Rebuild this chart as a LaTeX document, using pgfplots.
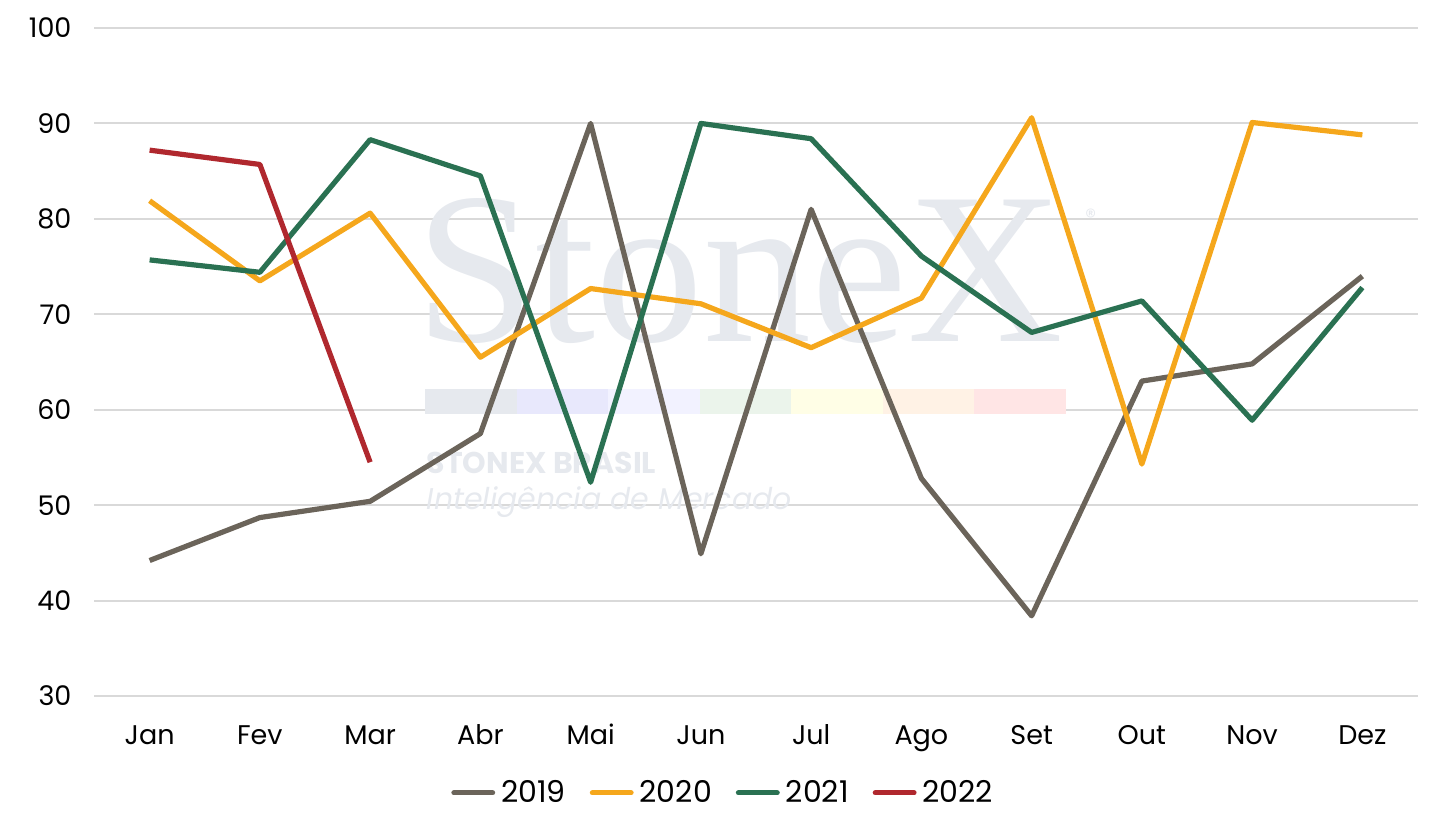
\documentclass[border=0pt]{standalone}
\usepackage{pgfplots}
\pgfplotsset{compat=1.18}
\usepackage{fontspec}
\setmainfont{Poppins}
\newfontfamily\wmserif{Liberation Serif}
\definecolor{c19}{HTML}{6B645A}
\definecolor{c20}{HTML}{F5A71C}
\definecolor{c21}{HTML}{2A7152}
\definecolor{c22}{HTML}{B0282E}
\definecolor{gridc}{HTML}{D9D9D9}
\definecolor{wm}{HTML}{E6E9EE}
\begin{document}
\begin{tikzpicture}
\useasboundingbox (-47.25pt,-65.5pt) rectangle (673.25pt,348pt);
\begin{axis}[
  at={(0,0)}, anchor=south west,
  scale only axis, width=661.5pt, height=334pt,
  xmin=-0.5, xmax=11.5, ymin=30, ymax=100,
  xtick={0,...,11},
  xticklabels={Jan,Fev,Mar,Abr,Mai,Jun,Jul,Ago,Set,Out,Nov,Dez},
  ytick={30,40,...,100},
  ymajorgrids, grid style={gridc, line width=1pt},
  axis line style={draw=none},
  major tick length=0pt,
  tick label style={font=\fontsize{13.5}{16}\selectfont, text=black},
  /pgf/number format/assume math mode=true,
  yticklabel style={xshift=-8pt},
  xticklabel style={anchor=base, yshift=-24pt},
  legend style={at={(0.476,-0.145)}, anchor=center, draw=none, font=\fontsize{15}{18}\selectfont, legend columns=4, /tikz/every odd column/.append style={column sep=1pt}, /tikz/every even column/.append style={column sep=10pt}},
  legend cell align=left,
  legend image code/.code={\draw[#1, line cap=round] (0cm,0cm) -- (0.68cm,0cm);},
  clip=false,
]
% watermark
\node[text=wm, font=\fontsize{108}{108}\selectfont\wmserif, anchor=center] at (axis cs:5.35,74.5) {StoneX};
\node[text=wm, font=\fontsize{11}{12}\selectfont, anchor=north east] at (axis cs:8.65,81.8) {®};
\fill[wm] (axis cs:2.5,59.6) rectangle (axis cs:3.33,62.2);
\fill[wm!70!blue!25] (axis cs:3.33,59.6) rectangle (axis cs:4.16,62.2);
\fill[blue!5] (axis cs:4.16,59.6) rectangle (axis cs:4.99,62.2);
\fill[green!30!gray!12] (axis cs:4.99,59.6) rectangle (axis cs:5.82,62.2);
\fill[yellow!10] (axis cs:5.82,59.6) rectangle (axis cs:6.65,62.2);
\fill[orange!10] (axis cs:6.65,59.6) rectangle (axis cs:7.48,62.2);
\fill[red!10] (axis cs:7.48,59.6) rectangle (axis cs:8.31,62.2);
\node[text=wm, font=\fontsize{15}{16}\selectfont\bfseries, anchor=west] at (axis cs:2.45,54.4) {STONEX BRASIL};
\node[text=wm, font=\fontsize{15}{16}\selectfont\itshape, anchor=west] at (axis cs:2.45,50.3) {Inteligência de Mercado};

\addplot[c19, line width=2.6pt, line join=round] coordinates {
(0,44.2) (1,48.7) (2,50.4) (3,57.5) (4,90.0) (5,44.9) (6,81.0) (7,52.8) (8,38.4) (9,63.0) (10,64.8) (11,74.0)};
\addlegendentry{2019}
\addplot[c20, line width=2.6pt, line join=round] coordinates {
(0,81.9) (1,73.5) (2,80.6) (3,65.5) (4,72.7) (5,71.1) (6,66.5) (7,71.7) (8,90.6) (9,54.3) (10,90.1) (11,88.8)};
\addlegendentry{2020}
\addplot[c21, line width=2.6pt, line join=round] coordinates {
(0,75.7) (1,74.4) (2,88.3) (3,84.5) (4,52.4) (5,90.0) (6,88.4) (7,76.1) (8,68.1) (9,71.4) (10,58.9) (11,72.8)};
\addlegendentry{2021}
\addplot[c22, line width=2.6pt, line join=round] coordinates {
(0,87.2) (1,85.7) (2,54.5)};
\addlegendentry{2022}
\end{axis}
\end{tikzpicture}
\end{document}
